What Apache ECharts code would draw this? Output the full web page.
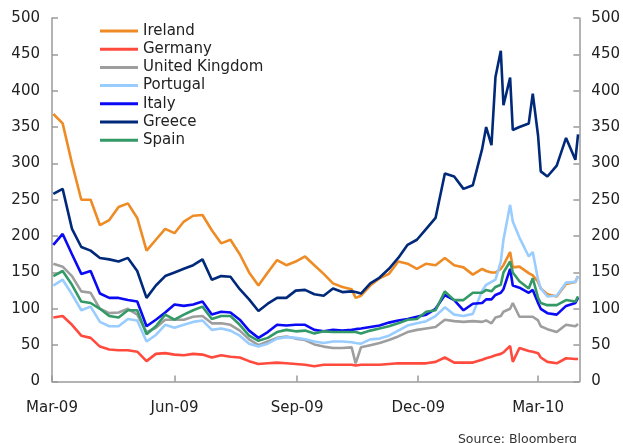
<!DOCTYPE html>
<html>
<head>
<meta charset="utf-8">
<script src="https://cdn.jsdelivr.net/npm/echarts@6/dist/echarts.min.js"></script>
<style>
html,body{margin:0;padding:0;background:#fff;}
#chart{width:623px;height:443px;}
</style>
</head>
<body>
<div id="chart"></div>
<script>
const dates = [
 '2009-03-02','2009-03-09','2009-03-16','2009-03-23','2009-03-30','2009-04-06','2009-04-13','2009-04-20','2009-04-27',
 '2009-05-04','2009-05-11','2009-05-18','2009-05-25','2009-06-01','2009-06-08','2009-06-15','2009-06-22','2009-06-29',
 '2009-07-06','2009-07-13','2009-07-20','2009-07-27','2009-08-03','2009-08-10','2009-08-17','2009-08-24','2009-08-31',
 '2009-09-07','2009-09-14','2009-09-21','2009-09-28','2009-10-05','2009-10-12','2009-10-15','2009-10-19','2009-10-26',
 '2009-11-02','2009-11-09','2009-11-16','2009-11-23','2009-11-30','2009-12-07','2009-12-14','2009-12-21','2009-12-28',
 '2010-01-04','2010-01-11','2010-01-18','2010-01-21','2010-01-25','2010-01-28','2010-02-01','2010-02-03','2010-02-08',
 '2010-02-10','2010-02-15','2010-02-22','2010-02-25','2010-03-01','2010-03-03','2010-03-08','2010-03-15','2010-03-22',
 '2010-03-29','2010-03-31'
];
const ireland = [368,355,300,250,250,215,222,240,245,225,180,195,210,204,220,228,229,208,190,195,175,150,132,150,167,160,165,
 172,160,148,135,130,127,115,118,132,142,148,165,162,155,162,160,170,160,157,147,155,152,150,150,155,160,178,157,158,149,146,
 137,128,120,117,134,137,145];
const germany = [88,90,78,63,60,48,44,43,43,41,28,38,39,37,36,38,37,33,36,34,33,28,24,25,26,25,24,23,21,23,23,23,23,22,23,23,
 23,24,25,25,25,25,27,33,26,26,26,30,32,34,36,38,40,49,27,46,42,41,39,33,27,25,32,31,31];
const uk = [162,158,145,124,122,100,94,95,100,92,68,74,85,85,85,89,90,80,80,78,70,58,50,55,60,62,59,57,51,48,46,46,47,25,47,50,
 53,57,62,68,71,73,75,85,83,82,83,82,84,80,88,90,96,100,108,89,89,89,84,76,72,68,78,76,79];
const portugal = [132,140,120,98,103,82,76,76,86,84,55,64,78,74,78,82,84,71,73,70,63,52,48,52,59,61,60,58,55,53,55,55,54,53,52,
 58,59,63,70,77,80,83,90,102,92,90,93,125,133,137,140,165,195,243,220,198,172,178,140,128,117,118,136,137,145];
const italy = [188,203,175,148,152,121,115,115,112,110,76,85,95,106,104,106,110,92,96,95,85,70,60,68,78,77,78,78,71,69,71,70,71,
 72,73,75,77,81,84,86,89,92,100,119,112,98,107,108,113,113,119,122,127,155,132,129,122,126,108,100,94,92,104,108,115];
const greece = [258,265,210,185,180,170,168,165,170,152,115,132,145,150,155,160,168,140,145,144,127,113,97,107,115,115,125,126,
 120,118,128,123,124,123,121,135,143,155,170,188,195,210,225,286,282,265,270,320,350,325,419,455,380,418,346,350,355,396,338,
 289,282,297,335,305,340];
const spain = [145,152,133,110,108,100,90,88,98,98,65,76,92,85,92,98,103,86,90,90,78,63,56,60,68,71,69,70,66,69,68,68,68,68,66,
 70,73,76,80,85,86,96,98,124,112,112,122,122,126,124,130,133,150,165,150,138,128,142,115,108,105,105,112,110,117];

const seriesNames = ['Ireland','Germany','United Kingdom','Portugal','Italy','Greece','Spain'];
const seriesValues = [ireland, germany, uk, portugal, italy, greece, spain];
const seriesColors = ['#EE8B25','#FF4A3D','#9E9E9E','#99CCFF','#0A0AF5','#00297A','#339966'];

const tickDates = ['2009-03-01','2009-06-01','2009-09-01','2009-12-01','2010-03-01'];
const tickLabels = ['Mar-09','Jun-09','Sep-09','Dec-09','Mar-10'];
const yTicks = [0,50,100,150,200,250,300,350,400,450,500];

function ts(s){ const p = s.split('-'); return Date.UTC(+p[0], +p[1]-1, +p[2]); }
const tickTs = tickDates.map(ts);
const FONT = 'DejaVu Sans';

const chart = echarts.init(document.getElementById('chart'), null, {renderer:'canvas'});
const yAxisBase = {
  type:'value', min:yTicks[0], max:yTicks[yTicks.length-1], interval:yTicks[1]-yTicks[0],
  axisLine:{show:true, lineStyle:{color:'#9a9a9a', width:1.5}},
  axisTick:{show:true, inside:true, length:6, lineStyle:{color:'#9a9a9a', width:1.5}},
  axisLabel:{fontSize:15, color:'#222', fontFamily:FONT, margin:12},
  splitLine:{show:false}
};
chart.setOption({
  animation:false,
  backgroundColor:'#fff',
  grid:{left:52, right:42, top:18, bottom:61.5, containLabel:false},
  legend:{
    data:seriesNames, orient:'vertical', left:95, top:18.5, icon:'rect',
    itemWidth:38, itemHeight:3, itemGap:3.2,
    textStyle:{fontSize:15, color:'#222', fontFamily:FONT, lineHeight:15}
  },
  xAxis:{
    type:'value', min:ts('2009-03-01'), max:ts('2010-04-01'), scale:true,
    axisLine:{show:true, lineStyle:{color:'#9a9a9a', width:1.5}},
    axisTick:{show:true, inside:true, length:6, customValues:tickTs, lineStyle:{color:'#9a9a9a', width:1.5}},
    axisLabel:{customValues:tickTs, fontSize:15, color:'#222', fontFamily:FONT, margin:19,
      formatter:function(v){ const i = tickTs.indexOf(v); return i >= 0 ? tickLabels[i] : ''; }},
    splitLine:{show:false}
  },
  yAxis:[Object.assign({}, yAxisBase, {position:'left'}), Object.assign({}, yAxisBase, {position:'right'})],
  series: seriesNames.map((n, k) => ({
    name:n, type:'line', yAxisIndex:0, symbol:'none', smooth:false,
    lineStyle:{width:2.6, color:seriesColors[k]}, itemStyle:{color:seriesColors[k]},
    data: dates.map((d, i) => [ts(d), seriesValues[k][i]])
  })),
  graphic:[{type:'text', right:46, top:433, style:{text:'Source: Bloomberg', fontSize:12.5, fill:'#333', fontFamily:FONT}}]
});
</script>
</body>
</html>
